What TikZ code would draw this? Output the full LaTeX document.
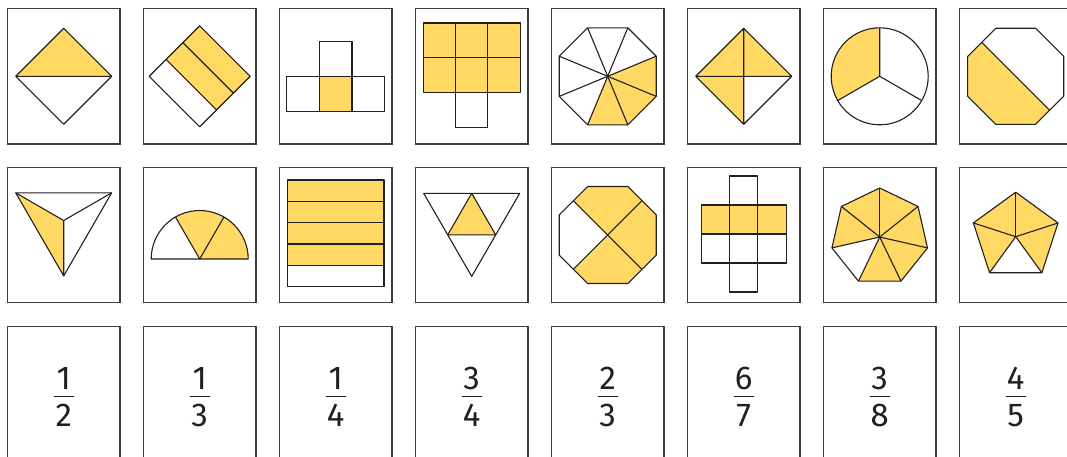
\documentclass[tikz,border=0pt]{standalone}
\usepackage{fontspec}
\setmainfont{Fira Sans}
\usetikzlibrary{calc}
\definecolor{ink}{HTML}{231F20}
\definecolor{frame}{HTML}{3C3C3C}
\definecolor{part}{HTML}{FFD964}
\tikzset{
  card/.style={draw=frame, line width=1.3pt, minimum width=112.7pt,
               minimum height=135.3pt, inner sep=0pt},
  outline/.style={draw=ink, line width=1.1pt, line join=round},
  shade/.style={fill=part},
  inside/.style={shift={(#1.center)}, y=1pt},
  digit/.style={font=\fontsize{33}{33}\selectfont, text=ink, anchor=base, inner sep=0pt},
  bar/.style={draw=ink, line width=1.4pt}
}

\begin{document}
\begin{tikzpicture}[x=1pt, y=-1pt]
  \useasboundingbox (0,0) rectangle (1067,456);
  % the 3 x 8 cards
  \foreach \r/\y in {1/76.3, 2/235, 3/394.3}
    \foreach \c in {1,...,8}
      \node[card] (card\r\c) at ({63.7+136*(\c-1)}, \y) {};

  % --- first row ---
  \begin{scope}[inside=card11]
    \fill[shade] (-48,0) -- (0,48) -- (48,0) -- cycle;
    \draw[outline] (0,48) -- (48,0) -- (0,-48) -- (-48,0) -- cycle (-48,0) -- (48,0);
  \end{scope}
  \begin{scope}[inside=card12]
    \fill[shade] (-33.67,16.83) -- (0,50.5) -- (50.5,0) -- (16.83,-33.67) -- cycle;
    \draw[outline] (0,50.5) -- (50.5,0) -- (0,-50.5) -- (-50.5,0) -- cycle
      (-33.67,16.83) -- (16.83,-33.67) (-16.83,33.67) -- (33.67,-16.83);
  \end{scope}
  \begin{scope}[inside=card13]
    \fill[shade] (-16.3,-35) rectangle (16.3,0);
    \draw[outline] (-48.9,-35) rectangle (48.9,0)
      (-16.3,-35) -- (-16.3,35) -- (16.3,35) -- (16.3,-35);
  \end{scope}
  \begin{scope}[inside=card14]
    \fill[shade] (-48.5,-16.1) rectangle (48.5,53.3);
    \draw[outline] (-48.5,-16.1) rectangle (48.5,53.3) (-48.5,18.6) -- (48.5,18.6)
      (-16.2,53.3) -- (-16.2,-50.8) -- (16.2,-50.8) -- (16.2,53.3);
  \end{scope}
  \begin{scope}[inside=card15]
    \fill[shade] (0,0) -- (247.5:52.5) -- (292.5:52.5) -- (337.5:52.5) -- (22.5:52.5) -- cycle;
    \draw[outline] (22.5:52.5) \foreach \a in {67.5,112.5,...,337.5} {-- (\a:52.5)} -- cycle;
    \foreach \a in {22.5,67.5,...,337.5}
      \draw[outline] (0,0) -- (\a:52.5);
  \end{scope}
  \begin{scope}[inside=card16]
    \fill[shade] (0,48) -- (48,0) -- (0,0) -- (0,-48) -- (-48,0) -- cycle;
    \draw[outline] (0,48) -- (48,0) -- (0,-48) -- (-48,0) -- cycle
      (-48,0) -- (48,0) (0,48) -- (0,-48);
  \end{scope}
  \begin{scope}[inside=card17]
    \fill[shade] (0,0) -- (90:48.5) arc[start angle=90, end angle=210, radius=48.5] -- cycle;
    \draw[outline] (0,0) circle[radius=48.5];
    \draw[outline] (90:48.5) -- (0,0) -- (210:48.5) (0,0) -- (330:48.5);
  \end{scope}
  \begin{scope}[inside=card18]
    \fill[shade] (135:48) -- (157.5:52) -- (202.5:52) -- (247.5:52) -- (292.5:52) -- (315:48) -- cycle;
    \draw[outline] (22.5:52) \foreach \a in {67.5,112.5,...,337.5} {-- (\a:52)} -- cycle;
    \draw[outline] (135:48) -- (315:48);
  \end{scope}

  % --- second row ---
  \begin{scope}[inside=card21, shift={(0,14.5)}]
    \fill[shade] (150:55.4) -- (0,0) -- (270:55.4) -- cycle;
    \draw[outline] (150:55.4) -- (30:55.4) -- (270:55.4) -- cycle;
    \draw[outline] (150:55.4) -- (0,0) -- (30:55.4) (0,0) -- (270:55.4);
  \end{scope}
  \begin{scope}[inside=card22, shift={(0,-24)}]
    \fill[shade] (0,0) -- (48.5,0) arc[start angle=0, end angle=120, radius=48.5] -- cycle;
    \draw[outline] (-48.5,0) -- (48.5,0) arc[start angle=0, end angle=180, radius=48.5] -- cycle;
    \draw[outline] (60:48.5) -- (0,0) -- (120:48.5);
  \end{scope}
  \begin{scope}[inside=card23]
    \fill[shade] (-48.3,-30.3) rectangle (48.3,55);
    \draw[outline] (-48.3,-51.7) rectangle (48.3,55);
    \foreach \k in {1,...,4}
      \draw[outline] (-48.3,{55-21.33*\k}) -- (48.3,{55-21.33*\k});
  \end{scope}
  \begin{scope}[inside=card24]
    \fill[shade] (0,41.7) -- (-24,0.15) -- (24,0.15) -- cycle;
    \draw[outline] (-48,41.7) -- (48,41.7) -- (0,-41.4) -- cycle
      (0,41.7) -- (-24,0.15) -- (24,0.15) -- cycle;
  \end{scope}
  \begin{scope}[inside=card25]
    \fill[shade] (22.5:52.5) \foreach \a in {67.5,112.5,...,337.5} {-- (\a:52.5)} -- cycle;
    \fill[white] (0,0) -- (135:48.5) -- (157.5:52.5) -- (202.5:52.5) -- (225:48.5) -- cycle;
    \draw[outline] (22.5:52.5) \foreach \a in {67.5,112.5,...,337.5} {-- (\a:52.5)} -- cycle;
    \draw[outline] (45:48.5) -- (225:48.5) (135:48.5) -- (315:48.5);
  \end{scope}
  \begin{scope}[inside=card26]
    \fill[shade] (-42.5,1) rectangle (42.5,30);
    \draw[outline] (-42.5,-28) rectangle (42.5,30) (-42.5,1) -- (42.5,1)
      (-14.2,59) -- (-14.2,-57) -- (14.2,-57) -- (14.2,59) -- cycle;
  \end{scope}
  \begin{scope}[inside=card27, shift={(0,-2)}]
    \fill[shade] (90:49) \foreach \k in {1,...,6} {-- ({90+360/7*\k}:49)} -- cycle;
    \fill[white] (0,0) -- ({90+360/7*2}:49) -- ({90+360/7*3}:49) -- cycle;
    \draw[outline] (90:49) \foreach \k in {1,...,6} {-- ({90+360/7*\k}:49)} -- cycle;
    \foreach \k in {0,...,6}
      \draw[outline] (0,0) -- ({90+360/7*\k}:49);
  \end{scope}
  \begin{scope}[inside=card28, shift={(0,-1.7)}]
    \fill[shade] (90:44.5) \foreach \k in {1,...,4} {-- ({90+72*\k}:44.5)} -- cycle;
    \fill[white] (0,0) -- (234:44.5) -- (306:44.5) -- cycle;
    \draw[outline] (90:44.5) \foreach \k in {1,...,4} {-- ({90+72*\k}:44.5)} -- cycle;
    \foreach \k in {0,...,4}
      \draw[outline] (0,0) -- ({90+72*\k}:44.5);
  \end{scope}

  % --- third row: fractions ---
  \foreach \c/\n/\d in {1/1/2, 2/1/3, 3/1/4, 4/3/4, 5/2/3, 6/6/7, 7/3/8, 8/4/5} {
    \node[digit] (num\c) at ([yshift=5pt]card3\c.center) {\n};
    \node[digit] (den\c) at ([yshift=-31.7pt]card3\c.center) {\d};
    \draw[bar] ([xshift=-10pt, yshift=-2.4pt]card3\c.center)
      -- ([xshift=10pt, yshift=-2.4pt]card3\c.center);
  }
\end{tikzpicture}
\end{document}
